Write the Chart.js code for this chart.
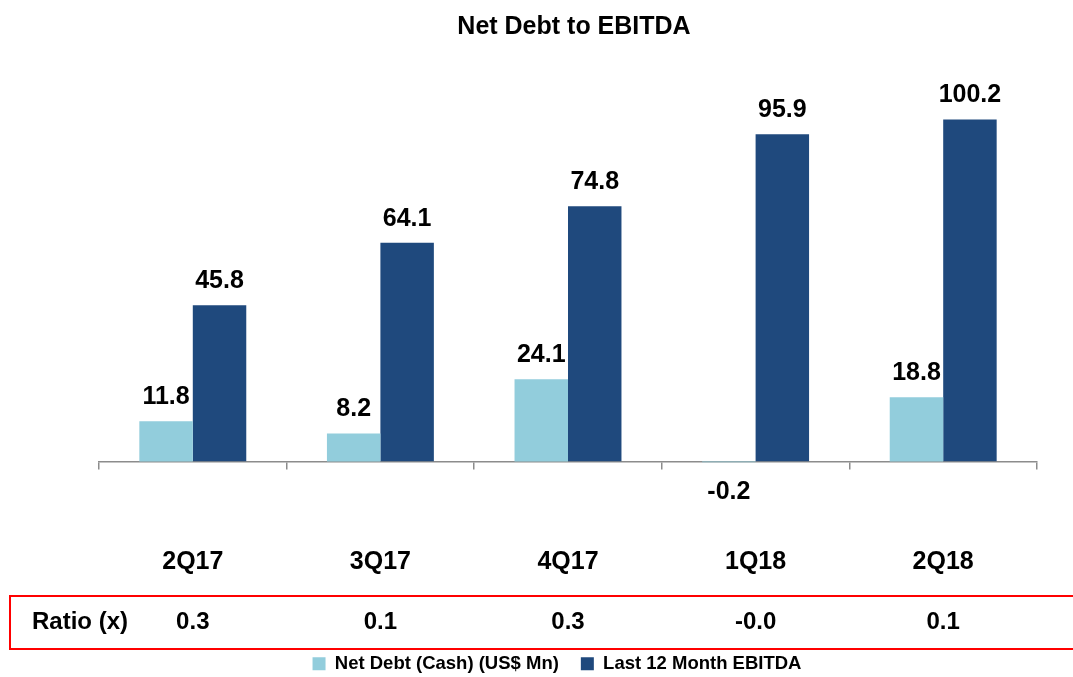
<!DOCTYPE html>
<html><head><meta charset="utf-8">
<script src="https://cdn.jsdelivr.net/npm/chart.js@4.4.1/dist/chart.umd.min.js"></script>
<style>html,body{margin:0;padding:0;background:#fff;} #wrap{width:1073px;height:677px;position:relative;}</style>
</head><body><div id="wrap"><canvas id="c"></canvas></div>
<script>
const categories = ['2Q17', '3Q17', '4Q17', '1Q18', '2Q18'];
const netDebt = [11.8, 8.2, 24.1, -0.2, 18.8];
const ebitda = [45.8, 64.1, 74.8, 95.9, 100.2];
const ratios = ['0.3', '0.1', '0.3', '-0.0', '0.1'];
const seriesNames = ['Net Debt (Cash) (US$ Mn)', 'Last 12 Month EBITDA'];
const ratioLabel = 'Ratio (x)';
const titleText = 'Net Debt to EBITDA';

const FONT = "'Liberation Sans', Arial, Helvetica, sans-serif";
Chart.defaults.font.family = FONT;
Chart.defaults.color = '#000';

const extras = {
  id: 'extras',
  afterLayout(chart) {
    if (chart.legend) { chart.legend.left -= 11; chart.legend.right -= 11; }
    if (chart.titleBlock) { chart.titleBlock.left += 6; chart.titleBlock.right += 6; }
  },
  afterDatasetsDraw(chart) {
    const ctx = chart.ctx;
    ctx.save();
    ctx.font = 'bold 25px ' + FONT;
    ctx.fillStyle = '#000';
    ctx.textAlign = 'center';
    ctx.textBaseline = 'middle';
    chart.data.datasets.forEach((ds, di) => {
      const meta = chart.getDatasetMeta(di);
      meta.data.forEach((bar, i) => {
        const v = ds.data[i];
        const y = v >= 0 ? bar.y - 24 : bar.base + 31;
        ctx.fillText(v.toFixed(1), bar.x, y);
      });
    });
    ctx.restore();
  },
  afterDraw(chart) {
    const ctx = chart.ctx;
    const xs = chart.scales.x;
    ctx.save();
    ctx.strokeStyle = '#ff0000';
    ctx.lineWidth = 2;
    ctx.strokeRect(10, 596, 1080, 53);
    ctx.font = 'bold 24px ' + FONT;
    ctx.fillStyle = '#000';
    ctx.textBaseline = 'middle';
    ctx.textAlign = 'left';
    ctx.fillText(ratioLabel, 32, 622);
    ctx.textAlign = 'center';
    ratios.forEach((r, i) => ctx.fillText(r, xs.getPixelForValue(i), 622));
    ctx.restore();
  }
};

new Chart(document.getElementById('c'), {
  type: 'bar',
  data: {
    labels: categories,
    datasets: [
      { label: seriesNames[0], data: netDebt, backgroundColor: '#92CDDC', borderWidth: 0, clip: false,
        categoryPercentage: 0.57, barPercentage: 1.0 },
      { label: seriesNames[1], data: ebitda, backgroundColor: '#1F497D', borderWidth: 0,
        categoryPercentage: 0.57, barPercentage: 1.0 }
    ]
  },
  options: {
    responsive: true,
    maintainAspectRatio: false,
    animation: false,
    devicePixelRatio: 1,
    layout: { padding: { left: 99, right: 36, top: 0, bottom: -6 } },
    scales: {
      x: {
        offset: true,
        grid: { display: true, offset: true, drawOnChartArea: false, drawTicks: true, tickLength: 8,
                color: '#8c8c8c', lineWidth: 1.5 },
        border: { display: true, color: '#8c8c8c', width: 1.5 },
        ticks: { font: { size: 25, weight: 'bold' }, color: '#000', padding: 78, maxRotation: 0 },
        afterFit(s) { s.height = 171; }
      },
      y: { display: false, min: 0, max: 120 }
    },
    plugins: {
      title: { display: true, text: titleText, font: { size: 25, weight: 'bold' }, color: '#000',
               padding: { top: 12, bottom: 10 } },
      legend: { position: 'bottom',
                labels: { boxWidth: 13, boxHeight: 13, padding: 22, color: '#000',
                          font: { size: 18.5, weight: 'bold' } } },
      tooltip: { enabled: false }
    }
  },
  plugins: [extras]
});
</script>
</body></html>
